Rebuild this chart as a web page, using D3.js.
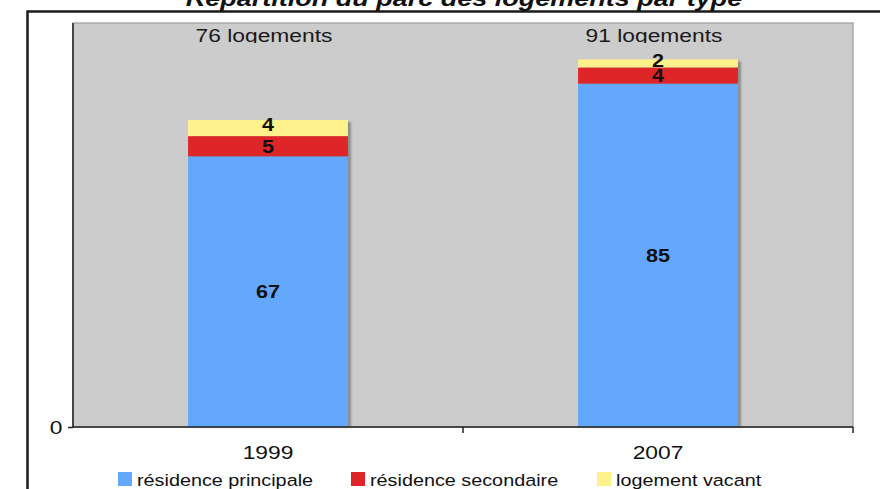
<!DOCTYPE html>
<html>
<head>
<meta charset="utf-8">
<script src="https://cdn.jsdelivr.net/npm/d3@7"></script>
<style>
  html, body { margin: 0; padding: 0; background: #fff; }
  svg { display: block; }
  text { font-family: "Liberation Sans", Arial, Helvetica, sans-serif; }
</style>
</head>
<body>
<svg id="chart" width="880" height="489"></svg>
<script>
// Housing stock by type, per census year
const years = ["1999", "2007"];
const seriesNames = ["résidence principale", "résidence secondaire", "logement vacant"];
const residencePrincipale = [67, 85];
const residenceSecondaire = [5, 4];
const logementVacant = [4, 2];
const totals = [76, 91];
const yTicks = [0];
const seriesColors = ["#63a8fd", "#de2629", "#fcf18a"];
const titleText = "Répartition du parc des logements par type";

const svg = d3.select("#chart");
const plot = { left: 73, right: 853, top: 23, bottom: 427 };
const SX = 1.2; // glyphs are drawn slightly wide

const rows = years.map((y, i) => ({
  year: y,
  "résidence principale": residencePrincipale[i],
  "résidence secondaire": residenceSecondaire[i],
  "logement vacant": logementVacant[i],
  total: totals[i]
}));
const stacked = d3.stack().keys(seriesNames)(rows);

const x = d3.scaleBand().domain(years).range([plot.left, plot.right]).padding(0);
const y = d3.scaleLinear().domain([0, 100]).range([plot.bottom, plot.top]);
const barW = x.bandwidth() * 0.41;
const color = d3.scaleOrdinal().domain(seriesNames).range(seriesColors);

// text helper with horizontal stretch
function label(parent, px, py, str, opts = {}) {
  const g = parent.append("g").attr("transform", `translate(${px},${py}) scale(${opts.sx || SX},1)`);
  return g.append("text")
    .attr("text-anchor", opts.anchor || "middle")
    .attr("dominant-baseline", opts.baseline || "auto")
    .attr("font-size", opts.size || 19)
    .attr("font-weight", opts.weight || "normal")
    .attr("font-style", opts.style || "normal")
    .attr("fill", opts.fill || "#111")
    .text(str);
}

const defs = svg.append("defs");
defs.append("filter").attr("id", "soft").attr("x", "-20%").attr("width", "140%")
  .append("feGaussianBlur").attr("stdDeviation", 1.2);
defs.append("clipPath").attr("id", "topClip")
  .append("rect").attr("x", plot.left).attr("y", plot.top).attr("width", plot.right - plot.left).attr("height", 20);

// outer frame
svg.append("rect").attr("x", 27.5).attr("y", 11.5).attr("width", 900).attr("height", 600)
  .attr("fill", "none").attr("stroke", "#1a1a1a").attr("stroke-width", 2.5);

// title (runs off the top edge)
label(svg, 464, 6, titleText, { size: 22.5, weight: "bold", style: "italic", fill: "#111" });

// plot background
svg.append("rect")
  .attr("x", plot.left).attr("y", plot.top)
  .attr("width", plot.right - plot.left).attr("height", plot.bottom - plot.top)
  .attr("fill", "#cccccc").attr("stroke", "#9a9a9a").attr("stroke-width", 1.2);

// bar shadows
svg.append("g").selectAll("rect").data(rows).join("rect")
  .attr("x", d => x(d.year) + (x.bandwidth() - barW) / 2 + 3)
  .attr("y", d => y(d.total) + 2)
  .attr("width", barW)
  .attr("height", d => y(0) - y(d.total) - 2)
  .attr("fill", "#8c8c8c")
  .attr("filter", "url(#soft)");

// stacked bars
const layers = svg.append("g").selectAll("g").data(stacked).join("g")
  .attr("fill", d => color(d.key));
layers.selectAll("rect").data(d => d).join("rect")
  .attr("x", d => x(d.data.year) + (x.bandwidth() - barW) / 2)
  .attr("y", d => y(d[1]))
  .attr("width", barW)
  .attr("height", d => y(d[0]) - y(d[1]));

// segment values
const valG = svg.append("g");
stacked.forEach(layer => {
  layer.forEach(d => {
    const v = d[1] - d[0];
    const cy = (y(d[0]) + y(d[1])) / 2 - (layer.key === "logement vacant" ? 3 : 0);
    label(valG, x(d.data.year) + x.bandwidth() / 2, cy, String(v),
      { size: 18, weight: "bold", baseline: "central", fill: "#111" });
  });
});

// totals at top of plot
const totG = svg.append("g").attr("clip-path", "url(#topClip)");
rows.forEach(d => {
  label(totG, x(d.year) + x.bandwidth() / 2 - 4, 42, `${d.total} logements`, { size: 19, fill: "#1a1a1a" });
});

// y axis
const yAxis = svg.append("g").attr("transform", `translate(${plot.left},0)`)
  .call(d3.axisLeft(y).tickValues(yTicks).tickSize(5).tickFormat(d3.format("d")));
yAxis.select(".domain").attr("stroke", "#222").attr("stroke-width", 1.5).attr("d", `M0,${plot.top}V${plot.bottom}`);
yAxis.selectAll(".tick line").attr("stroke", "#222").attr("stroke-width", 1.5);
yAxis.selectAll(".tick text").remove();
yTicks.forEach(t => label(svg, 56, y(t), d3.format("d")(t), { size: 19, baseline: "central" }));

// x axis
const xAxis = svg.append("g").attr("transform", `translate(0,${plot.bottom})`)
  .call(d3.axisBottom(x).tickSize(0).tickFormat(""));
xAxis.select(".domain").attr("stroke", "#222").attr("stroke-width", 1.5).attr("d", `M${plot.left},0H${plot.right}`);
xAxis.selectAll(".tick").remove();
// band boundary ticks
const bounds = years.map(yr => x(yr) + x.bandwidth()).filter(v => v > plot.left);
xAxis.selectAll("line.bound").data(bounds).join("line").attr("class", "bound")
  .attr("x1", d => d).attr("x2", d => d).attr("y1", 0).attr("y2", 6)
  .attr("stroke", "#222").attr("stroke-width", 1.5);
years.forEach(yr => label(svg, x(yr) + x.bandwidth() / 2, 459, yr, { size: 19 }));

// legend
const legendX = [118, 351, 597];
seriesNames.forEach((name, i) => {
  svg.append("rect").attr("x", legendX[i]).attr("y", 472).attr("width", 14).attr("height", 14)
    .attr("fill", seriesColors[i]);
  label(svg, legendX[i] + 19, 486, name, { size: 16.5, anchor: "start" });
});
</script>
</body>
</html>
